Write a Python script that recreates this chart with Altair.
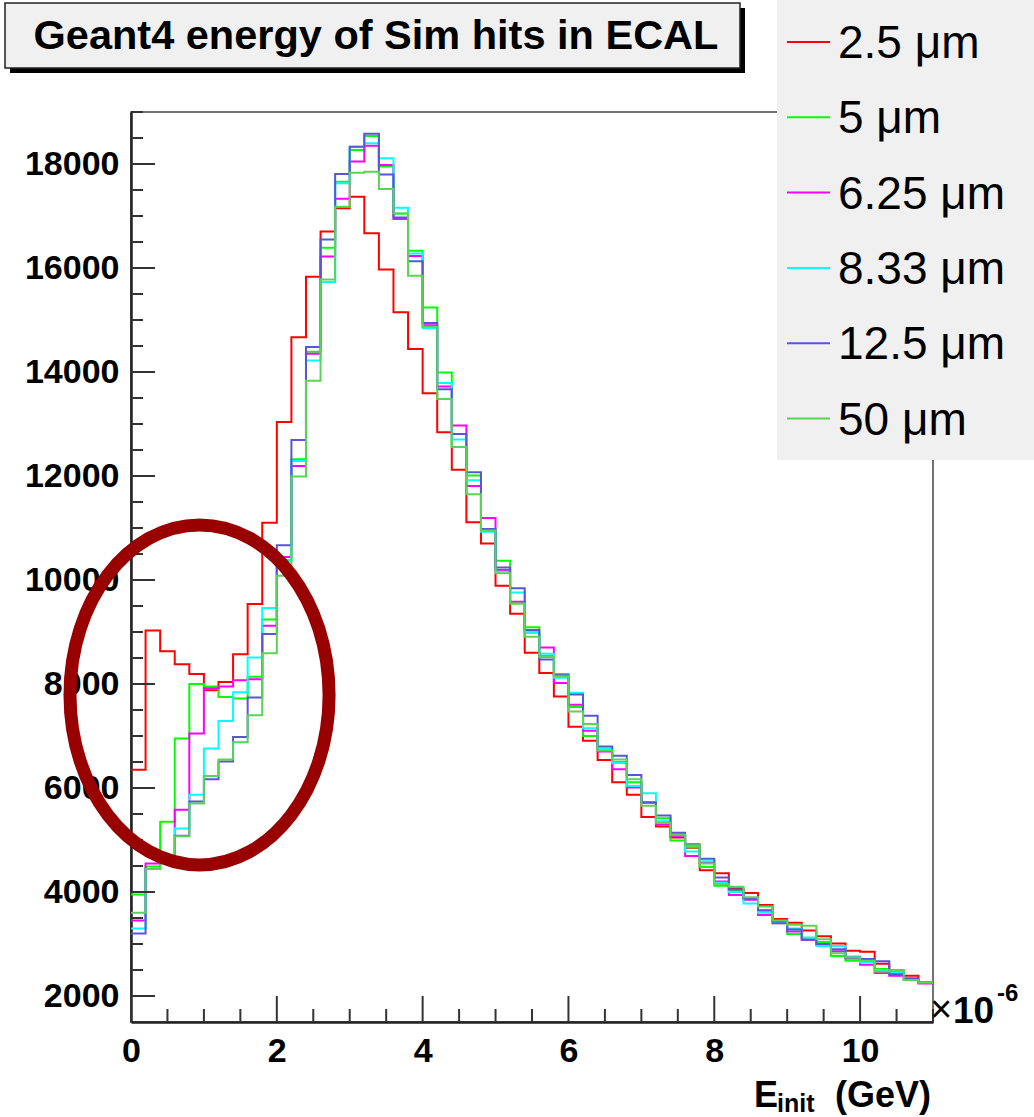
import altair as alt
import pandas as pd

# ---------------- data ----------------
LABELS = ["2.5 μm", "5 μm", "6.25 μm", "8.33 μm", "12.5 μm", "50 μm"]
COLORS = ["#ff0000", "#00ff00", "#ff00ff", "#00ffff", "#5954d9", "#59d454"]
BIN_WIDTH = 0.2
N_BINS = 55
X_TICKS = [0, 2, 4, 6, 8, 10]
Y_TICKS = [2000, 4000, 6000, 8000, 10000, 12000, 14000, 16000, 18000]

R = [6350, 9030, 8630, 8380, 8190, 7880, 8040, 8570, 9540, 11100,
     13040, 14670, 15830, 16700, 17150, 17370, 16670, 15970, 15150, 14440,
     13590, 12840, 12120, 11110, 10700, 9890, 9350, 8600, 8210, 7760,
     7180, 6910, 6540, 6110, 5870, 5440, 5260, 5050, 4850, 4420,
     4360, 4070, 3980, 3750, 3480, 3410, 3260, 3150, 3010, 2870,
     2850, 2620, 2450, 2390, 2260]
G = [3950, 4490, 5350, 6950, 8000, 7950, 7750, 7720, 8140, 9240,
     10380, 12320, 14390, 16390, 17660, 18270, 18540, 17950, 17050, 16330,
     15240, 13990, 12560, 12010, 10950, 10370, 9550, 9090, 8540, 8190,
     7560, 7000, 6720, 6500, 6110, 5720, 5420, 4990, 4860, 4480,
     4120, 4030, 3880, 3640, 3400, 3190, 3120, 3040, 2770, 2680,
     2680, 2520, 2430, 2310, 2260]
M = [3450, 4550, 4680, 5580, 7050, 7920, 7950, 8070, 8090, 9120,
     10440, 12190, 14350, 16220, 17330, 18050, 18350, 17980, 16940, 16230,
     14900, 13720, 12970, 11810, 11190, 10190, 9580, 8990, 8700, 8020,
     7600, 7100, 6700, 6360, 6010, 5720, 5300, 5080, 4690, 4560,
     4200, 3940, 3850, 3560, 3400, 3240, 3080, 2990, 2860, 2720,
     2600, 2440, 2390, 2310, 2240]
C = [3300, 4440, 4650, 5220, 5870, 6760, 7290, 7840, 8510, 9460,
     10360, 12290, 14220, 15730, 17630, 18330, 18400, 18110, 17160, 16280,
     14840, 13790, 12700, 11920, 10930, 10160, 9760, 9000, 8580, 8120,
     7830, 7150, 6760, 6480, 6040, 5900, 5360, 5110, 4780, 4590,
     4180, 4000, 3780, 3600, 3430, 3300, 3120, 2960, 2960, 2760,
     2650, 2500, 2440, 2320, 2260]
B = [3200, 4440, 4680, 5080, 5740, 6170, 6510, 6980, 7740, 8960,
     10670, 12690, 14480, 16550, 17810, 18330, 18580, 17800, 16970, 16130,
     14940, 13670, 12810, 12070, 10980, 10240, 9840, 9040, 8470, 8170,
     7800, 7390, 6800, 6620, 6250, 5720, 5470, 5140, 4920, 4640,
     4280, 4050, 3880, 3650, 3430, 3280, 3080, 3000, 2900, 2740,
     2710, 2670, 2420, 2340, 2260]
L = [3600, 4440, 4640, 5070, 5700, 6230, 6550, 6880, 7400, 8590,
     10080, 11990, 13830, 15780, 17180, 17830, 17850, 17520, 17050, 15850,
     14870, 13480, 12560, 11650, 10950, 10130, 9550, 8910, 8520, 8150,
     7470, 7230, 6720, 6550, 6170, 5660, 5330, 5100, 4900, 4550,
     4150, 4100, 3900, 3720, 3450, 3370, 3350, 3090, 2820, 2740,
     2680, 2470, 2500, 2310, 2260]
SERIES = [R, G, M, C, B, L]

# annotation ellipse centre (data units)
ELLIPSE_X = [0.94]
ELLIPSE_Y = [7790]

# ---------------- layout ----------------
W, H = 802, 910
PAD = {"left": 131, "top": 112, "right": 101, "bottom": 95}
FONT = "Liberation Sans"

XS = alt.Scale(domain=[0, 11], nice=False, zero=False)
YS = alt.Scale(domain=[1500, 19000], nice=False, zero=False)
XAX = alt.Axis(values=X_TICKS, format="d", ticks=False, grid=False, title=None,
               labelFont=FONT, labelFontSize=34, labelFontWeight="bold",
               labelColor="black", labelPadding=12, labelFlush=False,
               labelOverlap=False, domainColor="#222", domainWidth=2.5)
YAX = alt.Axis(values=Y_TICKS, format="d", ticks=False, grid=False, title=None,
               labelFont=FONT, labelFontSize=34, labelFontWeight="bold",
               labelColor="black", labelPadding=12, labelFlush=False,
               labelOverlap=False, domainColor="#222", domainWidth=2.5)
X = alt.X("x:Q", scale=XS, axis=XAX)
Y = alt.Y("y:Q", scale=YS, axis=YAX)

one = pd.DataFrame({"a": [0]})
layers = []

# title box with shadow
layers.append(alt.Chart(one).mark_rect(fill="black").encode(
    x=alt.value(-121), x2=alt.value(614), y=alt.value(-104), y2=alt.value(-39)))
layers.append(alt.Chart(one).mark_rect(fill="#f0f0f0", stroke="#222", strokeWidth=1.5).encode(
    x=alt.value(-126), x2=alt.value(609), y=alt.value(-109), y2=alt.value(-44)))
layers.append(alt.Chart(one).mark_text(
    text="Geant4 energy of Sim hits in ECAL", font=FONT, fontSize=41.5, fontWeight="bold",
    align="center", baseline="middle", color="black").encode(
    x=alt.value(245), y=alt.value(-75)))

# histograms as step lines
edges = [round(BIN_WIDTH * i, 1) for i in range(N_BINS + 1)]
for vals, col in zip(SERIES, COLORS):
    df = pd.DataFrame({"x": edges, "y": list(vals) + [vals[-1]]})
    layers.append(alt.Chart(df).mark_line(
        interpolate="step-after", color=col, strokeWidth=2).encode(x=X, y=Y))

# inward ticks
ymaj = pd.DataFrame({"y": Y_TICKS})
ymin = pd.DataFrame({"y": [v for v in range(2000, 19001, 500) if v % 2000 != 0]})
xmaj = pd.DataFrame({"x": X_TICKS})
xmin = pd.DataFrame({"x": [v / 2 for v in range(0, 23) if v % 4 != 0]})
layers.append(alt.Chart(ymaj).mark_rule(color="#333", strokeWidth=2).encode(
    y=Y, x=alt.value(0), x2=alt.value(24)))
layers.append(alt.Chart(ymin).mark_rule(color="#333", strokeWidth=2).encode(
    y=Y, x=alt.value(0), x2=alt.value(12)))
layers.append(alt.Chart(xmaj).mark_rule(color="#333", strokeWidth=2).encode(
    x=X, y=alt.value(H), y2=alt.value(H - 26)))
layers.append(alt.Chart(xmin).mark_rule(color="#333", strokeWidth=2).encode(
    x=X, y=alt.value(H), y2=alt.value(H - 13)))

# legend
layers.append(alt.Chart(one).mark_rect(fill="#f0f0f0").encode(
    x=alt.value(646), x2=alt.value(W + PAD["right"]), y=alt.value(-112), y2=alt.value(348)))
for i, (lab, col) in enumerate(zip(LABELS, COLORS)):
    yy = -70 + 75.3 * i
    layers.append(alt.Chart(one).mark_rule(color=col, strokeWidth=2).encode(
        x=alt.value(656), x2=alt.value(699), y=alt.value(yy)))
    layers.append(alt.Chart(one).mark_text(
        text=lab, font=FONT, fontSize=46, align="left", baseline="middle",
        color="black").encode(x=alt.value(707), y=alt.value(yy + 2)))

# axis titles
layers.append(alt.Chart(one).mark_text(
    text="E", font=FONT, fontSize=36, fontWeight="bold", align="left",
    baseline="alphabetic", color="black").encode(x=alt.value(623), y=alt.value(995)))
layers.append(alt.Chart(one).mark_text(
    text="init", font=FONT, fontSize=25, fontWeight="bold", align="left",
    baseline="alphabetic", color="black").encode(x=alt.value(646), y=alt.value(1000)))
layers.append(alt.Chart(one).mark_text(
    text="(GeV)", font=FONT, fontSize=36, fontWeight="bold", align="left",
    baseline="alphabetic", color="black").encode(x=alt.value(704), y=alt.value(995)))
layers.append(alt.Chart(one).mark_text(
    text="×", font=FONT, fontSize=38, align="left",
    baseline="alphabetic", color="black").encode(x=alt.value(799), y=alt.value(910)))
layers.append(alt.Chart(one).mark_text(
    text="10", font=FONT, fontSize=37, fontWeight="bold", align="left",
    baseline="alphabetic", color="black").encode(x=alt.value(822), y=alt.value(911)))
layers.append(alt.Chart(one).mark_text(
    text="-6", font=FONT, fontSize=24, fontWeight="bold", align="left",
    baseline="alphabetic", color="black").encode(x=alt.value(866), y=alt.value(889)))

# annotation ellipse
ELLIPSE_PATH = ("M 0.762 0 C 0.762 0.552 0.421 1 0 1 C -0.421 1 -0.762 0.552 -0.762 0 "
                "C -0.762 -0.552 -0.421 -1 0 -1 C 0.421 -1 0.762 -0.552 0.762 0 Z")
edf = pd.DataFrame({"x": ELLIPSE_X, "y": ELLIPSE_Y})
layers.append(alt.Chart(edf).mark_point(
    shape=ELLIPSE_PATH, size=340 * 340, filled=False, stroke="#990000",
    strokeWidth=13, opacity=1).encode(x=X, y=Y))

chart = alt.layer(*layers).properties(
    width=W, height=H, padding=PAD,
    autosize=alt.AutoSizeParams(type="none"),
    background="white",
).configure_view(stroke="#444", strokeWidth=1.5)

chart.save("out.html", embed_options={"renderer": "svg", "actions": False})
